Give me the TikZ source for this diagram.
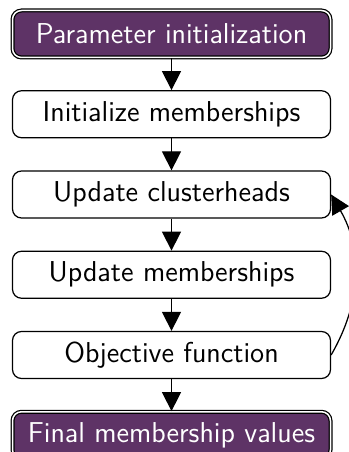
\documentclass[tikz,border=0pt]{standalone}
\usepackage{amsmath}
\usepackage{amssymb}
\usetikzlibrary{positioning,arrows.meta}
\definecolor{stagepurple}{RGB}{94,51,102}
\begin{document}
\begin{tikzpicture}[font=\sffamily\fontsize{11.5pt}{13pt}\selectfont,
		stepbox/.style={draw, line width=0.5pt, rounded corners=3.6pt, fill=white, minimum width=127.2pt, minimum height=18.8pt, inner sep=0pt},
		endbox/.style={stepbox, fill=stagepurple, text=white, double, double distance=0.6pt},
		flow/.style={-{Triangle[width=7.6pt,length=7.6pt]}, line width=0.5pt},
		node distance=12.8pt]
				\useasboundingbox (0,0) rectangle (139.2pt,-180.8pt);
				\node[endbox] (param) at (68.6pt,-13.6pt) {Parameter initialization};
				\node[stepbox, below=of param] (initmem) {Initialize memberships};
				\node[stepbox, below=of initmem] (updch) {Update clusterheads};
				\node[stepbox, below=of updch] (updmem) {Update memberships};
				\node[stepbox, below=of updmem] (objfun) {Objective function};
				\node[endbox, below=of objfun] (final) {Final membership values};
				\draw[flow] (param) -- (initmem);
				\draw[flow] (initmem) -- (updch);
				\draw[flow] (updch) -- (updmem);
				\draw[flow] (updmem) -- (objfun);
				\draw[flow] (objfun) -- (final);
				% back to the clusterheads
				\draw[flow] (objfun.east) to[bend right=30] (updch.east);
			\end{tikzpicture}
\end{document}
